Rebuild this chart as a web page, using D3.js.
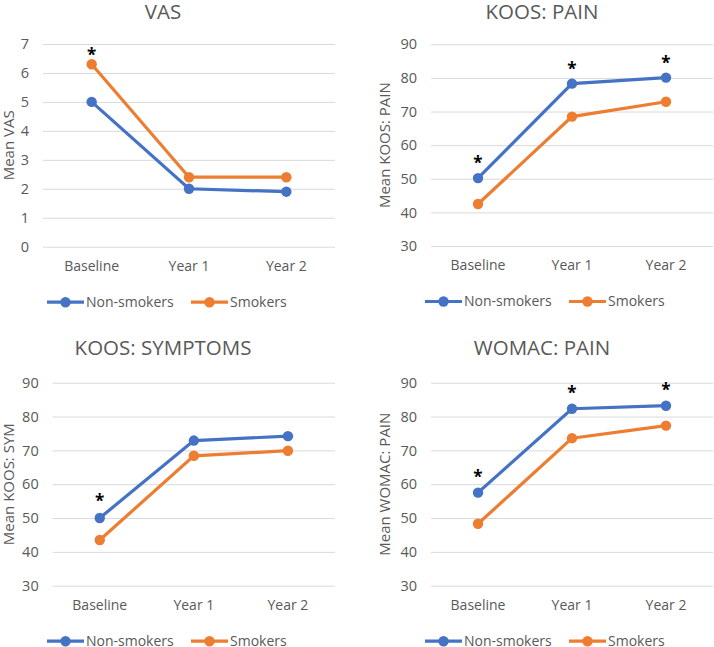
<!DOCTYPE html>
<html>
<head>
<meta charset="utf-8">
<script src="https://cdn.jsdelivr.net/npm/d3@7"></script>
<style>
  body { margin: 0; background: #fff; }
  svg { display: block; font-family: "Open Sans", sans-serif; }
</style>
</head>
<body>
<svg id="chart" width="714" height="647"></svg>
<script>
// data
const categories = ["Baseline", "Year 1", "Year 2"];
const seriesNames = ["Non-smokers", "Smokers"];

const vasNon = [5.0, 2.0, 1.9];
const vasSmk = [6.3, 2.4, 2.4];
const vasTicks = [0, 1, 2, 3, 4, 5, 6, 7];

const koosPainNon = [50.2, 78.3, 80.1];
const koosPainSmk = [42.5, 68.5, 72.9];

const koosSymNon = [50.0, 72.9, 74.2];
const koosSymSmk = [43.5, 68.4, 69.9];

const womacNon = [57.5, 82.3, 83.2];
const womacSmk = [48.3, 73.6, 77.3];

const scoreTicks = [30, 40, 50, 60, 70, 80, 90];

// which points carry a significance star: [series index, category index]
const vasStars = [[1, 0]];
const koosPainStars = [[0, 0], [0, 1], [0, 2]];
const koosSymStars = [[0, 0]];
const womacStars = [[0, 0], [0, 1], [0, 2]];

const colors = ["#4472C4", "#ED7D31"];
const textColor = "#595959";

// panel layout (absolute pixels)
const panels = [
  { title: "VAS", ylabel: "Mean VAS", non: vasNon, smk: vasSmk, ticks: vasTicks, stars: vasStars,
    x0: 43, x1: 335, y0: 44, y1: 246.7, titleX: 163, titleY: 19, labelX: 8.5, legX: 47, legX2: 191, starOff: 12 },
  { title: "KOOS: PAIN", ylabel: "Mean KOOS: PAIN", non: koosPainNon, smk: koosPainSmk, ticks: scoreTicks, stars: koosPainStars,
    x0: 431, x1: 713, y0: 44.3, y1: 246, titleX: 542, titleY: 19, labelX: 385, legX: 425, legX2: 569, starOff: 18 },
  { title: "KOOS: SYMPTOMS", ylabel: "Mean KOOS: SYM", non: koosSymNon, smk: koosSymSmk, ticks: scoreTicks, stars: koosSymStars,
    x0: 52.7, x1: 335, y0: 382.7, y1: 585.7, titleX: 163, titleY: 355, labelX: 8.5, legX: 47, legX2: 191, starOff: 20 },
  { title: "WOMAC: PAIN", ylabel: "Mean WOMAC: PAIN", non: womacNon, smk: womacSmk, ticks: scoreTicks, stars: womacStars,
    x0: 431, x1: 713, y0: 382.7, y1: 585.7, titleX: 542, titleY: 355, labelX: 385, legX: 425, legX2: 569, starOff: 19 }
];

const svg = d3.select("#chart");

panels.forEach(p => {
  const g = svg.append("g");

  const x = d3.scaleBand().domain(categories).range([p.x0, p.x1]);
  const y = d3.scaleLinear().domain(d3.extent(p.ticks)).range([p.y1, p.y0]);

  // gridlines + y tick labels
  const yAxis = g.append("g")
    .attr("transform", "translate(" + p.x0 + ",0)")
    .call(d3.axisLeft(y).tickValues(p.ticks).tickSize(-(p.x1 - p.x0)).tickPadding(14).tickFormat(d3.format("d")));
  yAxis.select(".domain").remove();
  yAxis.selectAll("line").attr("stroke", "#D9D9D9").attr("stroke-width", 1);
  yAxis.selectAll("text").attr("fill", textColor).attr("font-size", "14.5px").attr("font-family", "Open Sans");

  // x labels
  const xAxis = g.append("g")
    .attr("transform", "translate(0," + p.y1 + ")")
    .call(d3.axisBottom(x).tickSize(0).tickPadding(14));
  xAxis.select(".domain").remove();
  xAxis.selectAll("text").attr("fill", textColor).attr("font-size", "14px").attr("font-family", "Open Sans");

  // title
  g.append("text")
    .attr("x", p.titleX).attr("y", p.titleY)
    .attr("text-anchor", "middle")
    .attr("fill", textColor)
    .attr("font-size", "20.5px")
    .text(p.title);

  // y label
  g.append("text")
    .attr("transform", "translate(" + p.labelX + "," + ((p.y0 + p.y1) / 2) + ") rotate(-90)")
    .attr("text-anchor", "middle")
    .attr("dy", "0.35em")
    .attr("fill", textColor)
    .attr("font-size", "15px")
    .text(p.ylabel);

  const series = [p.non, p.smk];
  const cx = d => x(d.cat) + x.bandwidth() / 2;

  const line = d3.line().x(cx).y(d => y(d.v));

  series.forEach((vals, si) => {
    const pts = vals.map((v, i) => ({ cat: categories[i], v: v }));
    g.append("path")
      .datum(pts)
      .attr("fill", "none")
      .attr("stroke", colors[si])
      .attr("stroke-width", 3.2)
      .attr("d", line);
    g.selectAll(".pt" + si)
      .data(pts)
      .enter().append("circle")
      .attr("cx", cx)
      .attr("cy", d => y(d.v))
      .attr("r", 5.2)
      .attr("fill", colors[si]);
  });

  // significance stars
  p.stars.forEach(s => {
    const v = series[s[0]][s[1]];
    g.append("text")
      .attr("x", x(categories[s[1]]) + x.bandwidth() / 2)
      .attr("y", y(v) - p.starOff + 9)
      .attr("text-anchor", "middle")
      .attr("font-size", "17px")
      .attr("font-weight", "bold")
      .attr("fill", "#000")
      .text("*");
  });

  // legend
  const ly = p.y1 + 55.5;
  [p.legX, p.legX2].forEach((lx, si) => {
    g.append("line")
      .attr("x1", lx).attr("x2", lx + 37)
      .attr("y1", ly).attr("y2", ly)
      .attr("stroke", colors[si]).attr("stroke-width", 3.2);
    g.append("circle")
      .attr("cx", lx + 18.5).attr("cy", ly).attr("r", 5.2)
      .attr("fill", colors[si]);
    g.append("text")
      .attr("x", lx + 39).attr("y", ly)
      .attr("dy", "0.35em")
      .attr("fill", textColor)
      .attr("font-size", "14px")
      .text(seriesNames[si]);
  });
});
</script>
</body>
</html>
